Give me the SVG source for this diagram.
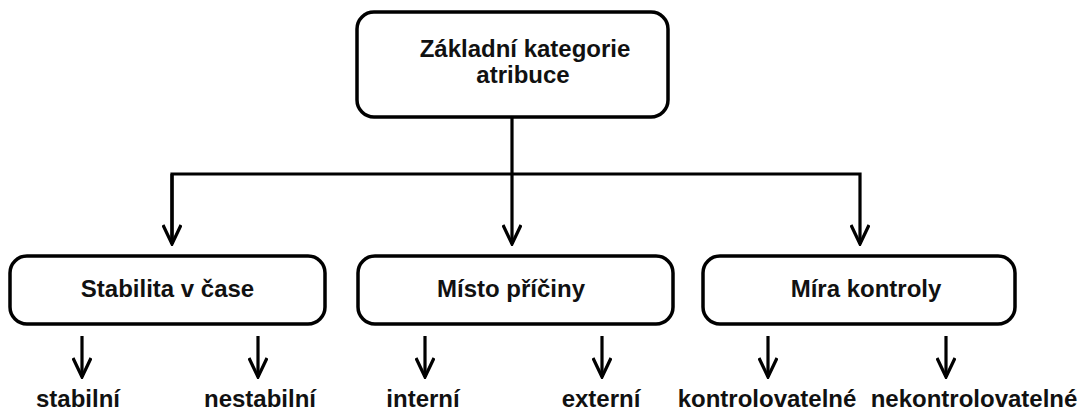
<svg xmlns="http://www.w3.org/2000/svg" width="1085" height="412" viewBox="0 0 1085 412">
  <style>
    .box { fill: #ffffff; stroke: #000000; stroke-width: 3.5; }
    .lbl { font-family: "Liberation Sans", Arial, sans-serif; font-weight: bold; font-size: 24px; fill: #111111; text-anchor: middle; }
    .wire { fill: none; stroke: #000000; stroke-width: 3.2; stroke-linejoin: miter; }
  </style>
  <defs>
    <marker id="chev" viewBox="0 0 22 20" refX="20" refY="10" markerWidth="22" markerHeight="20" markerUnits="userSpaceOnUse" orient="auto">
      <path d="M1,1 L20,10 L1,19" fill="none" stroke="#000000" stroke-width="3.2"/>
    </marker>
  </defs>
  <rect width="1085" height="412" fill="#ffffff"/>

  <!-- connectors -->
  <g id="connectors" class="wire">
    <path d="M512,117 V244" marker-end="url(#chev)"/>
    <path d="M172,244 V174 H860 V244" marker-end="url(#chev)"/>
    <path d="M172,174 V244" marker-end="url(#chev)"/>
    <path d="M82,336 V377" marker-end="url(#chev)"/>
    <path d="M258,336 V377" marker-end="url(#chev)"/>
    <path d="M425,336 V377" marker-end="url(#chev)"/>
    <path d="M602,336 V377" marker-end="url(#chev)"/>
    <path d="M768,336 V377" marker-end="url(#chev)"/>
    <path d="M946,336 V377" marker-end="url(#chev)"/>
  </g>

  <!-- root node -->
  <g id="root">
    <rect class="box" x="357" y="12" width="311" height="105" rx="17"/>
    <text class="lbl" x="525" y="57">Základní kategorie</text>
    <text class="lbl" x="523" y="83">atribuce</text>
  </g>

  <!-- category nodes -->
  <g id="stabilita">
    <rect class="box" x="10" y="256" width="315" height="68" rx="17"/>
    <text class="lbl" x="167.5" y="297">Stabilita v čase</text>
  </g>
  <g id="misto">
    <rect class="box" x="358" y="256" width="315" height="68" rx="17"/>
    <text class="lbl" x="511" y="297">Místo příčiny</text>
  </g>
  <g id="mira">
    <rect class="box" x="703" y="256" width="312" height="68" rx="17"/>
    <text class="lbl" x="866" y="297">Míra kontroly</text>
  </g>

  <!-- leaf labels -->
  <g id="stabilni"><text class="lbl" x="78" y="407">stabilní</text></g>
  <g id="nestabilni"><text class="lbl" x="260" y="407">nestabilní</text></g>
  <g id="interni"><text class="lbl" x="423" y="407">interní</text></g>
  <g id="externi"><text class="lbl" x="601" y="407">externí</text></g>
  <g id="kontrolovatelne"><text class="lbl" x="767" y="407">kontrolovatelné</text></g>
  <g id="nekontrolovatelne"><text class="lbl" x="974" y="407">nekontrolovatelné</text></g>
</svg>
